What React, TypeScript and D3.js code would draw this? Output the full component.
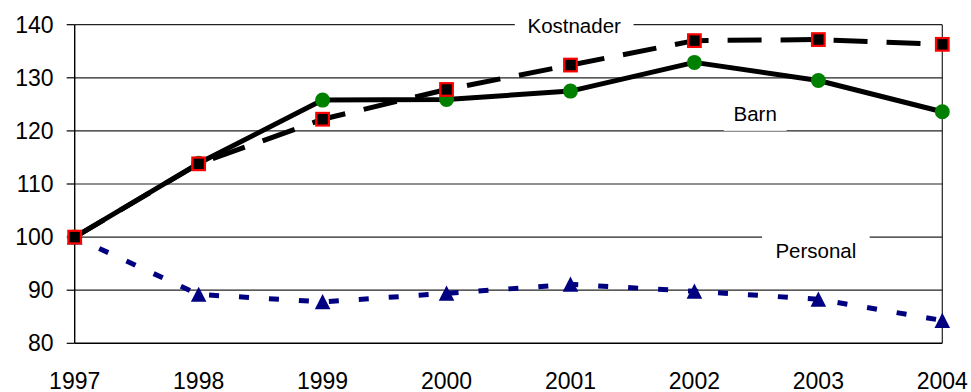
import React from "react";
import * as d3 from "d3";

const years = [1997, 1998, 1999, 2000, 2001, 2002, 2003, 2004];
const barn = [100, 113.9, 125.8, 125.9, 127.5, 132.9, 129.5, 123.6];
const kostnader = [100, 113.8, 122.2, 127.8, 132.4, 137.0, 137.2, 136.3];
const personal = [100, 89.2, 87.8, 89.4, 91.1, 89.8, 88.3, 84.3];
const yTicks = [80, 90, 100, 110, 120, 130, 140];

// Series name labels, placed in data space (x = year, y = baseline value)
const labelNames = ["Kostnader", "Barn", "Personal"];
const labelX = [2001.03, 2002.49, 2002.98];
const labelY = [138.4, 121.9, 96.1];

const W = 971;
const H = 392;
const FONT = "'Liberation Sans', Arial, sans-serif";

export default function App() {
  const x = d3.scaleLinear().domain([1997, 2004]).range([74.7, 942.3]);
  const y = d3.scaleLinear().domain([80, 140]).range([343.3, 24.7]);

  const line = d3
    .line<number>()
    .x((_, i) => x(years[i]))
    .y((d) => y(d));

  const triangle = (cx: number, cy: number) => {
    const s = 7.8;
    return `M${cx},${cy - s}L${cx + s},${cy + s * 0.95}L${cx - s},${cy + s * 0.95}Z`;
  };

  return (
    <svg
      width={W}
      height={H}
      style={{ position: "absolute", left: 0, top: 0, background: "#fff" }}
      fontFamily={FONT}
    >
      <rect width={W} height={H} fill="#fff" />

      {/* gridlines */}
      {yTicks.slice(1).map((t) => (
        <line key={t} x1={x(1997)} x2={x(2004)} y1={y(t)} y2={y(t)} stroke="#222" strokeWidth={1.2} />
      ))}
      {/* right frame */}
      <line x1={x(2004)} x2={x(2004)} y1={y(140)} y2={y(80)} stroke="#222" strokeWidth={1.2} />

      {/* series name labels with white boxes */}
      {labelNames.map((n, i) => {
        const w = n.length * 11.2 + 18;
        return (
          <g key={n}>
            <rect x={x(labelX[i]) - w / 2} y={y(labelY[i]) - 23} width={w} height={33} fill="#fff" />
            <text x={x(labelX[i])} y={y(labelY[i])} textAnchor="middle" fontSize={20.5} fill="#000">
              {n}
            </text>
          </g>
        );
      })}

      {/* axes */}
      <line x1={x(1997)} x2={x(1997)} y1={y(140)} y2={y(80)} stroke="#000" strokeWidth={1.4} />
      <line x1={x(1997)} x2={x(2004)} y1={y(80)} y2={y(80)} stroke="#000" strokeWidth={1.4} />
      {yTicks.map((t) => (
        <g key={t}>
          <line x1={x(1997) - 8} x2={x(1997)} y1={y(t)} y2={y(t)} stroke="#000" strokeWidth={1.2} />
          <text x={53.5} y={y(t) + 8} textAnchor="end" fontSize={23} fill="#000">
            {t}
          </text>
        </g>
      ))}
      {years.map((yr) => (
        <text key={yr} x={x(yr)} y={388.5} textAnchor="middle" fontSize={23} fill="#000">
          {yr}
        </text>
      ))}

      {/* Personal */}
      <path
        d={line(personal) || ""}
        fill="none"
        stroke="#000080"
        strokeWidth={5}
        strokeDasharray="10,20"
        strokeDashoffset={3}
      />
      {personal.map((v, i) => (
        <path key={i} d={triangle(x(years[i]), y(v))} fill="#000080" />
      ))}

      {/* Barn */}
      <path d={line(barn) || ""} fill="none" stroke="#000" strokeWidth={5} strokeLinejoin="round" />
      {barn.map((v, i) => (
        <circle key={i} cx={x(years[i])} cy={y(v)} r={7.5} fill="#008000" />
      ))}

      {/* Kostnader */}
      <path d={line(kostnader) || ""} fill="none" stroke="#000" strokeWidth={5} strokeDasharray="34,19" />
      {kostnader.map((v, i) => (
        <rect
          key={i}
          x={x(years[i]) - 6.3}
          y={y(v) - 6.3}
          width={12.6}
          height={12.6}
          fill="#000"
          stroke="#f00"
          strokeWidth={2.2}
        />
      ))}
    </svg>
  );
}
